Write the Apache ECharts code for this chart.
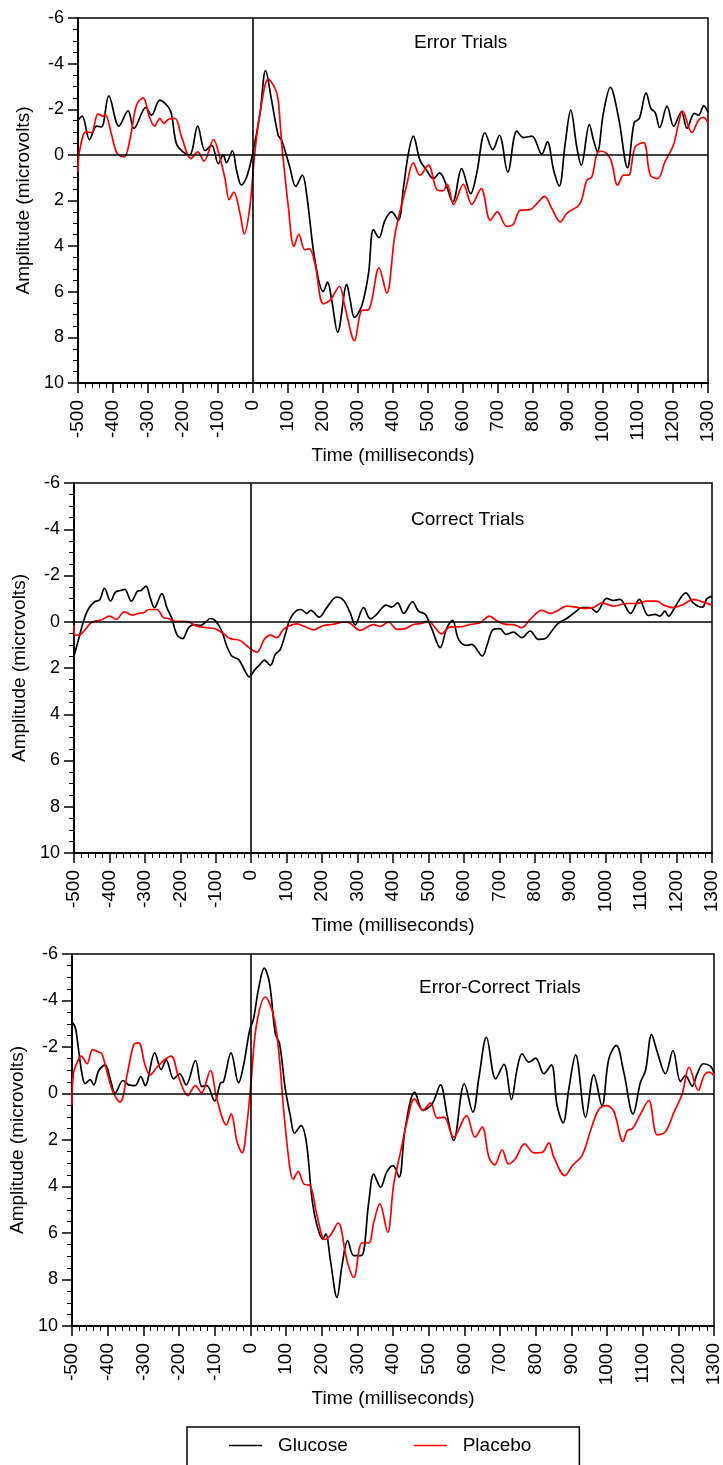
<!DOCTYPE html>
<html><head><meta charset="utf-8">
<script src="https://cdn.jsdelivr.net/npm/echarts@6/dist/echarts.min.js"></script>
<style>html,body{margin:0;padding:0;background:#fff}#c{width:723px;height:1465px}</style>
</head><body><div id="c"></div>
<script>
// ---- data: [time (ms), amplitude (microvolts)] ----
const errorGlucose = [[-500,-1.52],[-488,-1.7],[-467,-0.67],[-447,-1.26],[-433,-1.23],[-412,-2.59],[-383,-1.26],[-357,-1.93],[-340,-1.16],[-306,-2.08],[-290,-1.74],[-266,-2.4],[-242,-2.1],[-233,-1.8],[-219,-0.5],[-200,-0.13],[-181,0],[-158,-1.26],[-137,-0.18],[-118,-0.42],[-99,0.38],[-85,0],[-76,0.34],[-59,-0.18],[-47,0.67],[-33,1.33],[-18,0.97],[0,-0.13],[20,-1.82],[36,-3.69],[53,-2.4],[72,-0.86],[82,-0.64],[105,0.53],[122,1.38],[141,0.89],[153,1.7],[177,4.63],[201,5.99],[213,5.58],[225,6.38],[242,7.77],[268,5.68],[277,6.31],[290,7.12],[311,6.6],[330,5.21],[344,3.28],[360,3.63],[377,2.87],[396,2.5],[415,2.87],[430,1.41],[444,-0.06],[458,-0.82],[477,0.23],[496,0.67],[515,1.04],[533,0.79],[549,1.19],[571,2.06],[596,0.6],[622,1.7],[639,0.82],[663,-0.97],[685,-0.23],[704,-0.86],[728,0.75],[754,-1.04],[773,-0.76],[797,-0.82],[825,-0.03],[841,-0.57],[859,0.67],[875,1.36],[892,-0.5],[908,-1.96],[925,-0.35],[938,0.45],[961,-1.33],[973,-0.64],[984,-0.13],[1001,-1.82],[1021,-2.96],[1044,-1.67],[1070,0.56],[1089,-1.41],[1104,-1.6],[1123,-2.72],[1137,-2.03],[1149,-1.86],[1162,-1.2],[1183,-2.14],[1202,-1.26],[1224,-1.89],[1240,-1.16],[1261,-1.82],[1273,-1.74],[1288,-2.15],[1300,-1.89]];
const errorPlacebo = [[-500,0.75],[-496,-0.13],[-477,-1.01],[-462,-0.97],[-443,-1.79],[-429,-1.7],[-422,-1.77],[-405,-0.94],[-388,-0.06],[-368,0.09],[-352,-0.64],[-333,-2.18],[-314,-2.5],[-296,-1.67],[-281,-1.26],[-266,-1.6],[-255,-1.38],[-242,-1.55],[-223,-1.6],[-204,-0.79],[-177,0.16],[-158,-0.13],[-140,0.28],[-113,-0.67],[-94,0.16],[-80,1.04],[-68,1.96],[-55,1.63],[-37,2.58],[-25,3.46],[-9,2.28],[5,-0.06],[20,-1.82],[44,-3.32],[63,-2.91],[72,-2.4],[82,-0.5],[101,2.28],[117,4.01],[131,3.48],[148,4.16],[161,4.11],[177,4.77],[201,6.53],[220,6.38],[247,5.77],[263,6.68],[290,8.14],[311,6.82],[330,6.79],[360,4.95],[382,6.06],[406,3.46],[439,1.33],[458,0.35],[477,0.89],[501,0.45],[525,1.52],[542,1.58],[555,1.29],[573,2.17],[601,1.29],[625,2.17],[652,1.48],[678,2.87],[698,2.5],[725,3.13],[744,3.04],[763,2.43],[792,2.4],[811,2.14],[833,1.82],[854,2.36],[878,2.94],[897,2.55],[933,2.17],[954,1.11],[968,0.97],[983,-0.06],[997,-0.16],[1021,0.16],[1042,1.33],[1059,0.89],[1073,0.89],[1092,-0.35],[1116,-0.54],[1135,0.89],[1156,1.04],[1177,0.31],[1201,-0.42],[1216,-1.38],[1227,-1.93],[1254,-0.98],[1273,-1.52],[1288,-1.64],[1300,-1.38]];
const correctGlucose = [[-500,1.48],[-487,0.76],[-473,-0.03],[-459,-0.56],[-440,-0.89],[-429,-0.92],[-414,-1.44],[-397,-0.89],[-383,-1.28],[-369,-1.35],[-357,-1.4],[-338,-0.89],[-320,-1.33],[-311,-1.35],[-297,-1.54],[-285,-1.04],[-273,-0.61],[-252,-1.22],[-238,-0.61],[-224,-0.14],[-210,0.55],[-194,0.73],[-177,0.26],[-163,0.12],[-144,0.16],[-130,0.04],[-116,-0.14],[-102,-0.06],[-83,0.4],[-69,1.05],[-55,1.48],[-36,1.63],[-22,1.99],[-6,2.38],[11,2.06],[25,1.84],[37,1.66],[54,1.89],[68,1.41],[82,1.2],[96,0.55],[110,-0.14],[129,-0.5],[140,-0.53],[157,-0.36],[168,-0.49],[192,-0.2],[213,-0.61],[241,-1.07],[261,-0.92],[279,-0.39],[293,0.14],[317,-0.61],[336,-0.13],[354,-0.32],[381,-0.72],[396,-0.63],[413,-0.82],[430,-0.36],[455,-0.86],[472,-0.46],[491,-0.32],[510,0.33],[533,1.12],[552,0.26],[568,-0.06],[585,0.76],[608,1.02],[622,0.98],[652,1.48],[666,0.98],[683,0.33],[702,0.3],[719,0.55],[740,0.45],[763,0.69],[787,0.4],[810,0.76],[829,0.73],[848,0.4],[866,0.07],[890,-0.14],[914,-0.42],[932,-0.61],[956,-0.61],[974,-0.42],[1003,-1.01],[1021,-0.92],[1040,-0.97],[1070,-0.36],[1095,-0.97],[1120,-0.27],[1139,-0.32],[1153,-0.24],[1167,-0.46],[1177,-0.24],[1200,-0.75],[1226,-1.25],[1247,-0.82],[1273,-0.63],[1285,-0.99],[1300,-1.11]];
const correctPlacebo = [[-500,0.16],[-496,0.58],[-482,0.55],[-468,0.33],[-449,0.01],[-426,-0.06],[-399,-0.24],[-381,-0.1],[-358,-0.43],[-336,-0.29],[-318,-0.36],[-303,-0.39],[-289,-0.53],[-266,-0.53],[-247,-0.17],[-233,-0.14],[-219,-0.03],[-181,-0.01],[-153,0.19],[-125,0.26],[-102,0.3],[-78,0.52],[-59,0.73],[-31,0.81],[-12,1.05],[16,1.31],[37,0.76],[54,0.58],[72,0.69],[91,0.33],[110,0.16],[127,0.09],[148,0.19],[176,0.35],[204,0.16],[227,0.12],[265,0.01],[279,0.07],[307,0.37],[345,0.12],[364,0.2],[387,0.01],[411,0.33],[434,0.3],[458,0.12],[481,0.07],[500,-0.03],[519,0.26],[537,0.52],[561,0.23],[589,0.22],[617,0.12],[646,0.04],[672,-0.24],[697,0],[724,0.12],[740,0.12],[763,0.26],[787,-0.1],[820,-0.49],[843,-0.36],[862,-0.46],[890,-0.68],[918,-0.63],[937,-0.58],[965,-0.61],[989,-0.82],[1022,-0.68],[1059,-0.79],[1087,-0.79],[1116,-0.89],[1144,-0.89],[1163,-0.72],[1191,-0.61],[1219,-0.75],[1247,-0.97],[1275,-0.85],[1300,-0.72]];
const diffGlucose = [[-500,-3.07],[-491,-2.86],[-482,-1.92],[-472,-0.85],[-463,-0.42],[-449,-0.6],[-439,-0.37],[-425,-0.99],[-407,-1.23],[-393,-0.63],[-379,-0.01],[-357,-0.56],[-341,-0.37],[-323,-0.34],[-307,-0.73],[-295,-0.34],[-268,-1.75],[-250,-1.03],[-236,-1.45],[-215,-0.63],[-198,-0.85],[-180,-0.37],[-154,-1.42],[-136,-0.3],[-122,-0.34],[-100,0.32],[-84,-0.44],[-75,-0.52],[-54,-1.75],[-33,-0.46],[-19,-1.21],[-2,-2.71],[9,-3.21],[23,-4.5],[39,-5.39],[54,-4.72],[70,-2.57],[82,-2.14],[98,-0.2],[112,0.95],[124,1.71],[142,1.38],[157,2.09],[173,4.53],[187,5.68],[203,6.26],[212,6.04],[224,7.12],[243,8.77],[257,7.4],[273,6.33],[290,6.97],[311,6.97],[332,4.68],[346,3.47],[365,4.03],[383,3.36],[400,3.1],[417,3.6],[434,1.52],[461,-0.06],[484,0.73],[510,0.44],[533,-0.37],[552,0.95],[570,2.02],[600,-0.42],[624,0.8],[641,-0.7],[662,-2.42],[688,-0.63],[711,-1.25],[732,0.26],[748,-1.06],[762,-1.71],[781,-1.35],[800,-1.52],[823,-0.85],[844,-1.23],[860,0.52],[877,1.26],[893,-0.2],[912,-1.66],[940,1.02],[963,-0.8],[986,0.52],[1005,-1.49],[1026,-2.07],[1047,-0.92],[1073,0.88],[1094,-0.49],[1108,-0.99],[1125,-2.53],[1141,-1.78],[1164,-0.85],[1185,-1.85],[1206,-0.52],[1220,-0.77],[1239,-0.32],[1253,-0.85],[1270,-1.28],[1290,-1.18],[1300,-0.89]];
const diffPlacebo = [[-500,0.49],[-496,-0.85],[-485,-1.35],[-474,-1.61],[-458,-1.28],[-442,-1.89],[-425,-1.78],[-416,-1.71],[-398,-0.7],[-383,0.01],[-365,0.37],[-346,-0.77],[-327,-2.09],[-313,-2.18],[-295,-1.21],[-281,-0.8],[-262,-1.13],[-243,-1.42],[-222,-1.61],[-201,-0.7],[-175,0.09],[-154,-0.34],[-137,-0.03],[-112,-0.99],[-94,0.23],[-67,1.35],[-54,0.88],[-37,2.09],[-23,2.55],[-9,1.23],[2,-0.49],[17,-2.93],[42,-4.15],[65,-3.36],[79,-1.92],[94,0.8],[110,3.1],[120,3.7],[134,3.36],[150,3.89],[168,3.96],[187,5.25],[209,6.28],[224,6.11],[246,5.57],[271,7.19],[290,7.91],[313,6.43],[332,6.43],[346,5.54],[363,4.75],[385,5.97],[402,3.9],[421,2.53],[439,1.23],[460,0.23],[484,0.73],[505,0.4],[524,1.06],[543,1.02],[570,1.88],[606,0.95],[630,1.88],[650,1.45],[669,2.74],[685,3.07],[706,2.42],[724,3.03],[743,2.81],[769,2.17],[795,2.55],[818,2.53],[837,2.12],[851,2.74],[882,3.53],[903,3.1],[930,2.67],[954,1.59],[977,0.69],[999,0.52],[1019,0.77],[1045,2.07],[1057,1.59],[1071,1.52],[1094,0.88],[1117,0.3],[1141,1.78],[1164,1.64],[1188,0.8],[1211,0.01],[1230,-1.13],[1256,-0.13],[1272,-0.77],[1286,-0.92],[1300,-0.77]];

const panelTitles = ['Error Trials', 'Correct Trials', 'Error-Correct Trials'];
const seriesNames = ['Glucose', 'Placebo'];
const panelData = [[errorGlucose, errorPlacebo], [correctGlucose, correctPlacebo], [diffGlucose, diffPlacebo]];
const xRange = { min: -500, max: 1300, interval: 100 };
const yRange = { min: -6, max: 10, interval: 2 };
const xName = 'Time (milliseconds)';
const yName = 'Amplitude (microvolts)';

// ---- layout / style ----
const FONT = '"Liberation Sans", Arial, Helvetica, sans-serif';
const grids = [
  { left: 78, top: 18, width: 630, height: 365 },
  { left: 74, top: 483, width: 638, height: 370 },
  { left: 72, top: 954, width: 642, height: 372 }
];
const titlePos = [
  { left: 414, top: 33 },
  { left: 411, top: 510 },
  { left: 419, top: 978 }
];
const colors = ['#000000', '#ff0000'];

const option = {
  animation: false,
  backgroundColor: '#fff',
  textStyle: { fontFamily: FONT },
  title: panelTitles.map((t, i) => ({
    text: t, left: titlePos[i].left, top: titlePos[i].top, padding: 0,
    textStyle: { fontSize: 19, fontWeight: 'normal', color: '#000', fontFamily: FONT }
  })),
  legend: {
    data: seriesNames.map(n => ({ name: n, icon: 'rect' })),
    left: 187, top: 1427,
    itemWidth: 33, itemHeight: 1.6, itemGap: 66,
    padding: [9, 48, 40, 42],
    borderColor: '#000', borderWidth: 1.5,
    textStyle: { fontSize: 19, color: '#000', fontFamily: FONT, padding: [0, 0, 0, 11] }
  },
  grid: grids.map(g => Object.assign({ show: true, borderColor: '#000', borderWidth: 1.5, backgroundColor: 'transparent', outerBoundsMode: 'none', containLabel: false }, g)),
  xAxis: grids.map((g, i) => ({
    gridIndex: i, type: 'value', min: xRange.min, max: xRange.max, interval: xRange.interval,
    name: xName, nameLocation: 'middle', nameGap: 57,
    nameTextStyle: { fontSize: 19, color: '#000', fontFamily: FONT },
    axisLine: { onZero: false, lineStyle: { color: '#000', width: 2 } },
    axisTick: { show: true, length: 10, lineStyle: { color: '#000', width: 1.5 } },
    minorTick: { show: true, splitNumber: 5, length: 5, lineStyle: { color: '#000', width: 1 } },
    axisLabel: { rotate: 90, margin: 17, fontSize: 19, color: '#000', fontFamily: FONT, showMinLabel: true, showMaxLabel: true, hideOverlap: false, formatter: v => String(v) },
    splitLine: { show: false }, minorSplitLine: { show: false }
  })),
  yAxis: grids.map((g, i) => ({
    gridIndex: i, type: 'value', inverse: true, min: yRange.min, max: yRange.max, interval: yRange.interval,
    name: yName, nameLocation: 'middle', nameGap: 35,
    nameTextStyle: { fontSize: 19, color: '#000', fontFamily: FONT },
    axisLine: { onZero: false, lineStyle: { color: '#000', width: 2 } },
    axisTick: { show: true, length: 10, lineStyle: { color: '#000', width: 1.5 } },
    minorTick: { show: true, splitNumber: 4, length: 5, lineStyle: { color: '#000', width: 1 } },
    axisLabel: { margin: 14, fontSize: 18, color: '#000', fontFamily: FONT, showMinLabel: true, showMaxLabel: true, formatter: v => String(v) },
    splitLine: { show: false }, minorSplitLine: { show: false }
  })),
  series: []
};

panelData.forEach((pair, i) => {
  pair.forEach((data, k) => {
    const s = {
      name: seriesNames[k], type: 'line', xAxisIndex: i, yAxisIndex: i,
      data: data, smooth: 0.35, showSymbol: false, symbol: 'none',
      lineStyle: { color: colors[k], width: 1.7 }, itemStyle: { color: colors[k] },
      z: 3 + k
    };
    if (k === 0) {
      s.markLine = {
        silent: true, symbol: ['none', 'none'], label: { show: false },
        lineStyle: { color: '#000', type: 'solid', width: 1.6 },
        emphasis: { disabled: true },
        data: [{ yAxis: 0 }, { xAxis: 0 }]
      };
    }
    option.series.push(s);
  });
});

const chart = echarts.init(document.getElementById('c'), null, { renderer: 'canvas' });
chart.setOption(option);
</script>
</body></html>
